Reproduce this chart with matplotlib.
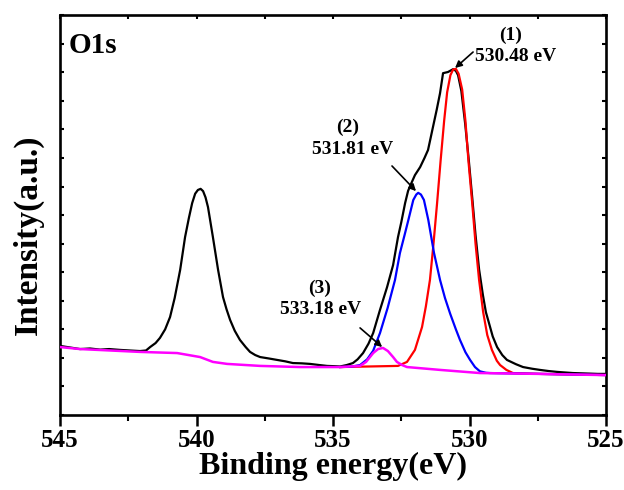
import matplotlib.pyplot as plt
from matplotlib.ticker import MultipleLocator, NullFormatter

# binding energy (eV) / intensity (a.u.)
raw_ev = [545.0, 544.6, 544.27, 543.9, 543.53, 543.2, 542.8, 542.45, 542.07, 541.85,
          541.7, 541.5, 541.34, 541.15, 540.97, 540.8, 540.6, 540.42, 540.28, 540.16,
          540.05, 539.95, 539.85, 539.76, 539.67, 539.58, 539.4, 539.21, 539.03, 538.9,
          538.77, 538.6, 538.41, 538.2, 538.04, 537.85, 537.67, 537.35, 537.05, 536.75,
          536.47, 536.15, 535.84, 535.5, 535.22, 534.95, 534.74, 534.5, 534.27, 534.1,
          533.9, 533.7, 533.53, 533.28, 533.02, 532.8, 532.62, 532.5, 532.36, 532.25,
          532.13, 532.0, 531.81, 531.65, 531.52, 531.34, 531.2, 531.08, 530.97, 530.79,
          530.6, 530.5, 530.42, 530.3, 530.16, 530.03, 529.9, 529.78, 529.65, 529.51,
          529.4, 529.32, 529.15, 528.99, 528.8, 528.63, 528.3, 528.04, 527.7, 527.42,
          527.1, 526.79, 526.5, 526.21, 525.9, 525.59, 525.3, 525.0]
raw_int = [2.42, 2.36, 2.31, 2.33, 2.29, 2.31, 2.28, 2.26, 2.24, 2.26,
           2.38, 2.52, 2.7, 3.0, 3.43, 4.1, 5.08, 6.23, 6.9, 7.42,
           7.75, 7.88, 7.92, 7.84, 7.62, 7.28, 6.23, 5.08, 4.13, 3.7,
           3.33, 2.95, 2.63, 2.38, 2.21, 2.1, 2.03, 1.98, 1.93, 1.88,
           1.82, 1.81, 1.79, 1.75, 1.72, 1.71, 1.7, 1.75, 1.82, 1.95,
           2.17, 2.5, 2.87, 3.68, 4.48, 5.25, 6.23, 6.75, 7.42, 7.85,
           8.12, 8.4, 8.68, 9.0, 9.28, 10.08, 10.7, 11.27, 11.97, 12.01,
           12.11, 12.05, 11.9, 11.35, 10.2, 8.95, 7.6, 6.3, 5.1, 4.2,
           3.6, 3.33, 2.75, 2.38, 2.1, 1.93, 1.78, 1.68, 1.62, 1.58,
           1.54, 1.51, 1.49, 1.47, 1.46, 1.45, 1.44, 1.44]

# peak (1) 530.48 eV
p1_ev = [534.74, 532.62, 532.29, 532.0, 531.74, 531.6, 531.45, 531.33, 531.19, 531.06,
         530.93, 530.82, 530.7, 530.6, 530.5, 530.4, 530.27, 530.15, 530.04, 529.9,
         529.78, 529.65, 529.5, 529.35, 529.18, 529.0, 528.88, 528.65, 528.41, 527.42,
         525.0]
p1_int = [1.68, 1.72, 1.86, 2.28, 3.08, 3.8, 4.73, 5.89, 7.4, 8.9,
          10.3, 11.3, 11.9, 12.1, 12.12, 11.95, 11.4, 10.3, 8.9, 7.4,
          6.0, 4.73, 3.6, 2.8, 2.28, 1.9, 1.75, 1.58, 1.47, 1.44,
          1.4]

# peak (2) 531.81 eV
p2_ev = [534.74, 534.3, 534.01, 533.75, 533.53, 533.28, 533.0, 532.73, 532.55, 532.38,
         532.24, 532.06, 531.95, 531.88, 531.78, 531.67, 531.51, 531.3, 531.08, 530.9,
         530.71, 530.5, 530.35, 530.15, 529.98, 529.8, 529.62, 529.4, 529.25, 527.42,
         525.0]
p2_int = [1.68, 1.7, 1.75, 1.95, 2.25, 2.87, 3.75, 4.73, 5.67, 6.3,
          6.83, 7.53, 7.72, 7.78, 7.72, 7.53, 6.83, 5.67, 4.73, 4.1,
          3.55, 3.0, 2.63, 2.2, 1.93, 1.68, 1.53, 1.48, 1.47, 1.44,
          1.4]

# peak (3) 533.18 eV drawn on the background
p3_ev = [545.0, 544.27, 542.07, 540.71, 539.87, 539.4, 538.88, 537.67, 536.21, 534.74,
         534.01, 533.79, 533.53, 533.35, 533.17, 532.99, 532.8, 532.66, 532.47, 532.29,
         531.08, 529.62, 527.42, 525.11, 525.0]
p3_int = [2.38, 2.31, 2.21, 2.17, 2.03, 1.86, 1.79, 1.72, 1.68, 1.68,
          1.72, 1.86, 2.17, 2.31, 2.35, 2.24, 2.03, 1.86, 1.75, 1.68,
          1.58, 1.47, 1.44, 1.4, 1.4]

plt.rcParams['font.family'] = ['Liberation Serif', 'DejaVu Serif']
plt.rcParams['font.weight'] = 'bold'

fig = plt.figure(figsize=(6.24, 4.90), dpi=100)
ax = fig.add_axes([0.0962, 0.153, 0.875, 0.816])

ax.plot(raw_ev, raw_int, color='black', lw=1.6, zorder=2)
ax.plot(p1_ev, p1_int, color='red', lw=1.6, zorder=3)
ax.plot(p2_ev, p2_int, color='blue', lw=1.6, zorder=3)
ax.plot(p3_ev, p3_int, color='#ff00ff', lw=1.8, zorder=4)

ax.set_xlim(545, 525)
ax.set_ylim(0, 14)

ax.xaxis.set_major_locator(MultipleLocator(5))
ax.xaxis.set_minor_locator(MultipleLocator(2.5))
ax.yaxis.set_major_locator(MultipleLocator(1))
ax.yaxis.set_major_formatter(NullFormatter())

ax.tick_params(axis='x', which='major', direction='out', length=8, width=1.8,
               labelsize=18, pad=2)
ax.tick_params(axis='x', which='minor', direction='out', length=4, width=1.5)
ax.tick_params(axis='y', which='major', direction='in', length=3, width=1.5,
               right=True)
ax.tick_params(axis='x', which='both', top=False)
for sp in ax.spines.values():
    sp.set_linewidth(1.9)

# little inward ticks along the top spine
sec = ax.secondary_xaxis('top')
sec.xaxis.set_major_locator(MultipleLocator(2.5))
sec.xaxis.set_major_formatter(NullFormatter())
sec.tick_params(direction='in', length=3, width=1.5)
sec.spines['top'].set_visible(False)

ax.set_xlabel('Binding energy(eV)', fontsize=23, fontweight='bold', labelpad=0)
ax.set_ylabel('Intensity(a.u.)', fontsize=24, fontweight='bold')
ax.yaxis.set_label_coords(-0.03, 0.45)

ax.text(0.015, 0.925, 'O1s', transform=ax.transAxes, fontsize=21,
        fontweight='bold', ha='left', va='center')

txt = dict(fontsize=14, fontweight='bold', ha='center', va='center')
arw = dict(arrowstyle='-|>', color='black', lw=1.2, mutation_scale=10,
           shrinkA=0, shrinkB=0)

ax.text(528.48, 13.30, '(1)', **txt)
ax.text(528.30, 12.57, '530.48 eV', **txt)
ax.annotate('', xy=(530.53, 12.15), xytext=(529.87, 12.71), arrowprops=arw)

ax.text(534.45, 10.08, '(2)', **txt)
ax.text(534.27, 9.28, '531.81 eV', **txt)
ax.annotate('', xy=(531.96, 7.84), xytext=(532.84, 8.72), arrowprops=arw)

ax.text(535.48, 4.45, '(3)', **txt)
ax.text(535.44, 3.71, '533.18 eV', **txt)
ax.annotate('', xy=(533.20, 2.38), xytext=(534.01, 3.05), arrowprops=arw)

fig.savefig('out.png', dpi=100)
